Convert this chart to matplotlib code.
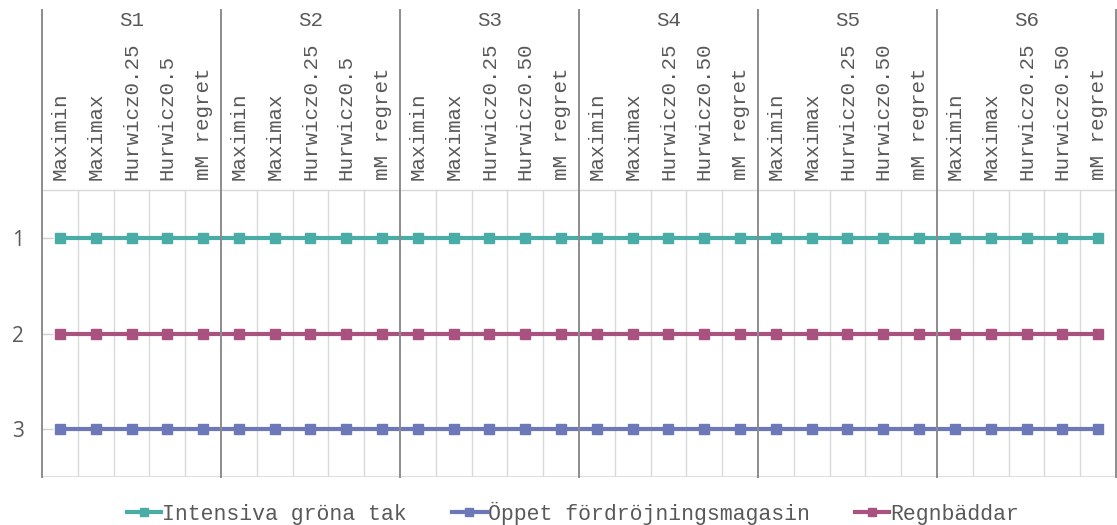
import numpy as np
import matplotlib.pyplot as plt

scenarios = ["S1", "S2", "S3", "S4", "S5", "S6"]
criteria = {
    "S1": ["Maximin", "Maximax", "Hurwicz0.25", "Hurwicz0.5", "mM regret"],
    "S2": ["Maximin", "Maximax", "Hurwicz0.25", "Hurwicz0.5", "mM regret"],
    "S3": ["Maximin", "Maximax", "Hurwicz0.25", "Hurwicz0.50", "mM regret"],
    "S4": ["Maximin", "Maximax", "Hurwicz0.25", "Hurwicz0.50", "mM regret"],
    "S5": ["Maximin", "Maximax", "Hurwicz0.25", "Hurwicz0.50", "mM regret"],
    "S6": ["Maximin", "Maximax", "Hurwicz0.25", "Hurwicz0.50", "mM regret"],
}
# rank of each measure (1 = best) for every scenario/criterion
rank_grona_tak = [1] * 30
rank_magasin = [3] * 30
rank_regnbaddar = [2] * 30

labels = [c for s in scenarios for c in criteria[s]]
x = np.arange(len(labels))
ngrp = len(criteria["S1"])

W, H = 1117, 525
fig = plt.figure(figsize=(W / 100, H / 100), dpi=100)
ax = fig.add_axes([42 / W, (H - 477) / H, (1116 - 42) / W, (477 - 190) / H])

mono = "Liberation Mono"
txt = "#595959"

kw = dict(lw=3, marker="s", ms=7)
ax.plot(x, rank_grona_tak, color="#4aaca7", label="Intensiva gröna tak", **kw)
ax.plot(x, rank_magasin, color="#6c78b8", label="Öppet fördröjningsmagasin", **kw)
ax.plot(x, rank_regnbaddar, color="#a9527f", label="Regnbäddar", **kw)

ax.set_xlim(-0.5, len(labels) - 0.5)
ax.set_ylim(3.5, 0.5)
ax.set_yticks([1, 2, 3])
ax.tick_params(axis="y", direction="in", length=8, width=1, color="#d0d0d0",
               pad=13, labelsize=15, labelcolor=txt)
for t in ax.get_yticklabels():
    t.set_fontfamily("Open Sans")
ax.set_xticks([])
for sp in ax.spines.values():
    sp.set_visible(False)

# light gridlines between categories
for xb in np.arange(0.5, len(labels) - 1, 1):
    if (xb + 0.5) % ngrp:
        ax.axvline(xb, color="#d9d9d9", lw=1, zorder=0)
ax.axhline(3.5, color="#d9d9d9", lw=1.2, zorder=0)

# category table above the plot area
xt = ax.get_xaxis_transform()
top = (477 - 10) / (477 - 190)
ax.plot([-0.5, len(labels) - 0.5], [1, 1], transform=xt, color="#d9d9d9",
        lw=1, clip_on=False)
for g in range(len(scenarios) + 1):
    xb = g * ngrp - 0.5
    ax.plot([xb, xb], [0, top], transform=xt, color="#8c8c8c", lw=1.4,
            clip_on=False)
for i, lab in enumerate(labels):
    ax.text(i, (477 - 180) / (477 - 190), lab, transform=xt, rotation=90,
            ha="center", va="bottom", fontsize=15, family=mono, color=txt)
for g, s in enumerate(scenarios):
    ax.text(g * ngrp + (ngrp - 1) / 2, (477 - 20) / (477 - 190), s,
            transform=xt, ha="center", va="center", fontsize=15,
            family=mono, color=txt)

fig.legend(loc="center", bbox_to_anchor=(0.513, 12 / H), ncol=3,
           frameon=False, handlelength=1.6, handletextpad=0.05,
           columnspacing=2.1, prop={"family": mono, "size": 15.5},
           labelcolor=txt, markerscale=0.8)

fig.savefig("out.png", dpi=100, facecolor="white")
